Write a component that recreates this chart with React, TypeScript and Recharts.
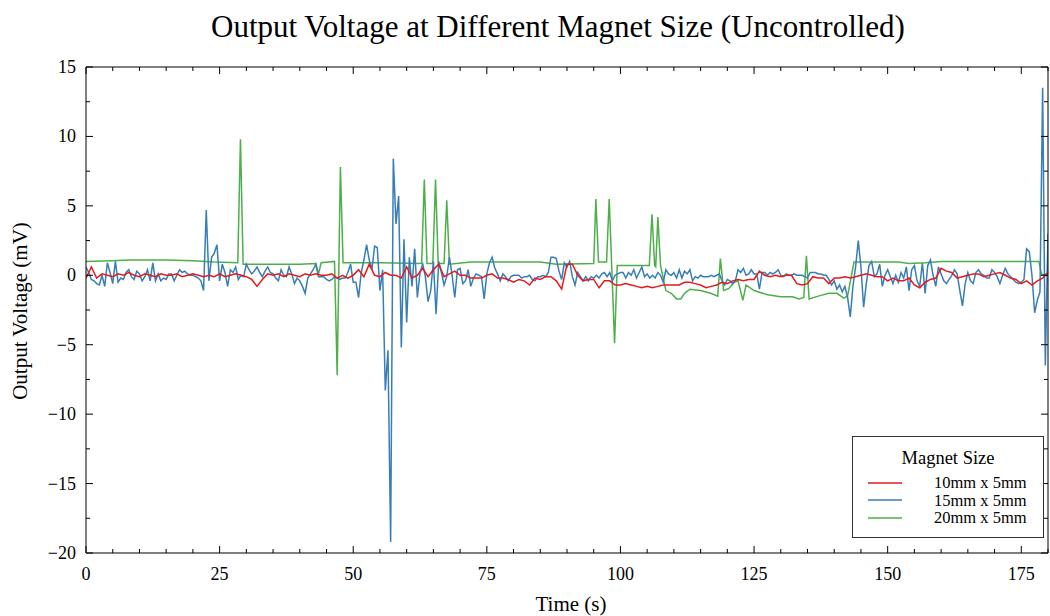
import React from "react";
import { LineChart, Line, XAxis, YAxis, Legend } from "recharts";

const SERIF = '"Liberation Serif", "Times New Roman", serif';

// sampling interval (s) of each recording
const RED_STEP = 1;
const BLUE_STEP = 0.5;

const red10mm = [
  -0.2, 0.6, -0.2, 0.1, 0.0, -0.1, 0.1, 0.0, 0.2, 0.0,
  -0.1, 0.1, 0.0, -0.1, 0.1, 0.0, 0.0, 0.1, -0.1, 0.0,
  0.1, 0.0, -0.1, 0.0, -0.1, 0.1, -0.1, 0.0, 0.1, 0.0,
  -0.1, -0.3, -0.8, -0.3, 0.1, 0.0, 0.1, -0.1, 0.1, 0.0,
  -0.1, 0.1, 0.0, 0.1, 0.0, 0.0, 0.1, -0.2, 0.0, -0.2,
  0.0, 0.4, -0.1, 0.8, 0.0, -0.1, 0.2, 0.0, 0.0, -0.2,
  0.6, -0.2, 0.0, 0.5, -0.1, 0.4, 0.8, -0.1, 0.1, 0.3,
  0.0, 0.0, -0.2, -0.2, -0.2, 0.0, 0.1, -0.2, -0.2, -0.3,
  -0.5, -0.3, -0.4, -0.7, -0.2, -0.3, -0.1, -0.1, -0.4, -1.0,
  0.8, 0.8, 0.0, -0.4, -0.3, -0.3, -0.9, -0.4, -0.4, -0.7,
  -0.7, -0.6, -0.7, -0.8, -0.9, -0.8, -0.9, -0.8, -0.7, -0.7,
  -0.7, -0.7, -0.5, -0.5, -0.6, -0.7, -0.9, -0.8, -0.7, -0.5,
  -0.6, -0.4, -0.3, -0.4, -0.3, -0.3, 0.3, 0.0, -0.1, 0.0,
  -0.1, 0.0, 0.0, -0.6, -0.7, -0.6, -0.1, -0.2, -0.2, -0.6,
  -0.2, -0.2, -0.1, -0.2, -0.1, 0.0, 0.1, 0.0, -0.1, -0.1,
  -0.4, -0.2, -0.4, -0.4, -0.2, -0.7, -0.9, -0.5, -0.3, -0.2,
  0.5, 0.3, 0.2, -0.2, -0.1, 0.0, 0.1, 0.1, -0.1, 0.0,
  0.1, 0.2, 0.0, -0.2, -0.3, -0.6, -0.4, -0.7, -0.4, -0.2,
  0.2,
];

const blue15mm = [
  0.6, 0.2, -0.3, -0.4, -0.6, -0.7, 0.0, -0.8, 0.9, 0.2,
  -0.6, 1.0, -0.5, -0.2, -0.3, 0.2, 0.4, -0.1, -0.3, 0.3,
  0.1, -0.4, -0.1, 0.4, -0.4, 0.9, -0.4, 0.1, -0.4, -0.2,
  -0.3, 0.1, 0.1, -0.4, 0.0, 0.4, 0.2, 0.3, 0.1, 0.0,
  0.0, -0.1, -0.2, -0.4, -1.1, 4.7, -0.4, 1.3, 1.6, 2.2,
  -0.4, 0.8, 0.2, -0.8, 0.4, 0.2, 0.6, -0.3, 0.0, -0.1,
  0.8, 0.4, 0.1, 0.3, 0.6, 0.2, -0.1, 0.3, 0.6, 0.2,
  0.1, -0.2, -0.4, 0.4, 0.0, -0.1, 0.6, 0.1, -0.6, -0.2,
  -0.4, -0.8, -1.3, -0.2, 0.1, 0.4, 0.8, -0.1, -0.1, -0.1,
  -0.3, -0.4, -0.3, -0.1, -0.2, -0.3, -0.2, -0.2, 0.2, 0.8,
  -0.5, -0.5, -1.6, 0.2, 1.1, 2.2, 1.1, 0.4, 2.1, 2.0,
  -1.1, 0.4, -8.3, -5.4, -19.2, 8.4, 3.7, 5.7, -5.2, 2.6,
  -3.4, 1.3, -0.8, 1.9, -1.6, 0.2, 0.8, -0.1, -1.9, -1.1,
  1.0, -2.8, 1.0, 0.2, -0.7, -0.1, 1.3, 0.0, -1.6, 0.4,
  0.5, -0.6, -0.4, 0.4, -0.8, -0.2, 0.1, 0.0, -0.1, -1.7,
  0.1, 0.9, 1.3, 0.5, 0.1, -0.4, 0.1, -0.1, -0.4, -0.1,
  0.0, 0.0, 0.0, -0.2, -0.1, -0.1, 0.0, -0.3, -0.4, -0.1,
  -0.1, 0.0, -0.1, 0.2, 1.3, 1.3, 1.2, 0.3, -0.3, 0.9,
  0.6, 1.0, -0.1, -0.7, 0.2, -0.1, -0.4, -0.1, -0.4, -0.1,
  -0.2, 0.0, -0.2, 0.1, 0.2, -0.1, 0.2, -0.4, 0.0, 0.1,
  0.2, 0.2, -0.2, 0.2, 0.0, 0.4, -0.2, 0.2, 0.6, -0.1,
  0.1, -0.2, 0.0, -0.2, 0.2, 0.0, -0.5, 0.4, 0.1, 0.0,
  0.2, -0.2, 0.4, -0.2, 0.3, 0.1, 0.4, -0.4, -0.1, -0.2,
  0.0, -0.1, -0.1, -0.1, 0.0, -0.1, 0.0, 0.1, -0.4, -0.7,
  -0.3, -0.4, -0.6, -0.4, 0.4, 0.2, 0.5, 0.0, 0.1, 0.4,
  0.1, 0.1, -1.0, 0.2, 0.2, 0.0, 0.2, 0.1, 0.2, 0.4,
  0.0, -0.1, 0.1, 0.0, 0.0, 0.1, 0.0, 0.0, 0.0, -0.1,
  -0.2, 0.2, 0.2, 0.2, 0.1, 0.1, 0.0, 0.0, -0.3, -0.7,
  -0.4, -1.0, -0.7, -1.2, -0.8, -1.6, -3.0, -0.8, 0.6, 2.5,
  0.6, -2.3, -0.6, 0.7, 1.0, -0.1, 0.1, 0.8, -0.8, 0.0,
  0.4, -0.1, -0.6, 0.0, -0.5, 0.2, -0.2, 0.6, -1.1, 0.4,
  0.7, -0.4, -0.8, 0.9, -1.3, 0.7, 1.1, 0.0, -0.8, 0.6,
  0.1, -0.4, -0.6, -0.3, 0.0, 0.4, 0.1, -1.1, -2.2, -0.6,
  0.2, -0.4, -0.6, 0.2, 0.4, 0.1, 0.0, -0.2, -0.2, 0.4,
  0.2, -0.1, -0.6, 0.0, 0.5, 0.1, -0.1, -0.3, -0.5, -0.6,
  -0.5, -0.3, 1.9, 1.7, 0.0, -2.7, -1.8, -1.2, 13.5, -6.5,
  3.0,
];

// the 20mm run is mostly flat, so it is kept as (time, value) breakpoints
const greenTime = [
  0, 5, 8, 15, 20, 24, 28.4, 28.9, 29.4, 35, 40, 43.0, 43.5, 44.0,
  46.5, 47.0, 47.6, 48.1, 55, 62.8, 63.3, 63.8, 64.9, 65.4, 65.9,
  67.0, 67.5, 68.0, 72, 85, 88, 95.0, 95.4, 95.9, 97.4, 97.9, 98.4,
  98.9, 99.4, 105.4, 105.9, 106.4, 106.6, 107.0, 107.5, 108.5, 109.5,
  110.5, 111.3, 112, 113, 115, 116.9, 118.2, 118.7, 119.3, 120.3,
  121.3, 122.0, 122.9, 123.5, 125, 127.5, 130, 132.2, 133.4, 134.3,
  134.8, 135.3, 137, 139, 140.5, 141.8, 142.5, 143.7, 152, 154, 157,
  160, 178.3, 178.8, 180,
];
const green20mm = [
  1.0, 1.05, 1.1, 1.1, 1.05, 0.95, 0.9, 9.8, 0.8, 0.8, 0.8, 0.85, 0.1, 0.9,
  1.0, -7.2, 7.8, 0.9, 0.9, 0.85, 6.9, 0.85, 0.85, 6.9, 0.85,
  0.85, 5.4, 0.8, 0.95, 0.95, 0.8, 0.85, 5.5, 0.95, 0.95, 5.5, 0.3,
  -4.9, 0.7, 0.7, 4.4, 0.7, 0.6, 4.2, 0.7, -1.1, -1.3,
  -1.7, -1.7, -1.3, -1.0, -1.1, -1.3, -1.5, 1.2, -1.1, -0.95,
  -0.5, -0.4, -1.8, -0.7, -1.1, -1.4, -1.55, -1.55, -1.7, -1.6,
  1.4, -1.7, -1.5, -1.3, -1.3, -1.65, -1.5, 0.95, 0.95, 0.85, 0.9,
  1.0, 1.0, 0.05, 0.1,
];

const seriesNames = ["10mm x 5mm", "15mm x 5mm", "20mm x 5mm"];
const seriesColors = ["#e41a1c", "#377eb8", "#4daf4a"];

const xMajorTicks = [0, 25, 50, 75, 100, 125, 150, 175];
const xTicks = [
  0, 5, 10, 15, 20, 25, 30, 35, 40, 45, 50, 55, 60, 65, 70, 75, 80, 85, 90,
  95, 100, 105, 110, 115, 120, 125, 130, 135, 140, 145, 150, 155, 160, 165,
  170, 175, 180,
];
const yMajorTicks = [15, 10, 5, 0, -5, -10, -15, -20];
const yTicks = [
  15, 12.5, 10, 7.5, 5, 2.5, 0, -2.5, -5, -7.5, -10, -12.5, -15, -17.5, -20,
];

const redRows = red10mm.map((v, i) => ({ t: i * RED_STEP, v }));
const blueRows = blue15mm.map((v, i) => ({ t: i * BLUE_STEP, v }));
const greenRows = greenTime.map((t, i) => ({ t, v: green20mm[i] }));

const MAJOR_LEN = 7;
const MINOR_LEN = 4;
const TICK_FONT = 18;
const fmt = (v: number) => (v < 0 ? `\u2212${Math.abs(v)}` : `${v}`);

function BottomTick({ x, y, payload }: any) {
  const major = xMajorTicks.includes(payload.value);
  return (
    <g>
      <line x1={x} x2={x} y1={y} y2={y - (major ? MAJOR_LEN : MINOR_LEN)} stroke="#000" />
      {major && (
        <text x={x} y={y + 27} textAnchor="middle" fontFamily={SERIF} fontSize={TICK_FONT} fill="#000">
          {payload.value}
        </text>
      )}
    </g>
  );
}

function TopTick({ x, y, payload }: any) {
  const major = xMajorTicks.includes(payload.value);
  return <line x1={x} x2={x} y1={y} y2={y + (major ? MAJOR_LEN : MINOR_LEN)} stroke="#000" />;
}

function LeftTick({ x, y, payload }: any) {
  const major = yMajorTicks.includes(payload.value);
  return (
    <g>
      <line x1={x} x2={x + (major ? MAJOR_LEN : MINOR_LEN)} y1={y} y2={y} stroke="#000" />
      {major && (
        <text x={x - 10} y={y + 6} textAnchor="end" fontFamily={SERIF} fontSize={TICK_FONT} fill="#000">
          {fmt(payload.value)}
        </text>
      )}
    </g>
  );
}

function RightTick({ x, y, payload }: any) {
  const major = yMajorTicks.includes(payload.value);
  return <line x1={x} x2={x - (major ? MAJOR_LEN : MINOR_LEN)} y1={y} y2={y} stroke="#000" />;
}

function MagnetLegend() {
  return (
    <div
      style={{
        width: 192,
        height: 102,
        boxSizing: "border-box",
        border: "1px solid #333",
        background: "#fff",
        fontFamily: SERIF,
        color: "#000",
      }}
    >
      <div style={{ textAlign: "center", fontSize: 18.5, lineHeight: "22px", marginTop: 10 }}>
        Magnet Size
      </div>
      <div style={{ marginTop: 5 }}>
        {seriesNames.map((name, i) => (
          <div key={name} style={{ display: "flex", alignItems: "center", height: 17.5 }}>
            <svg width={34} height={4} style={{ marginLeft: 15 }}>
              <line x1={0} x2={34} y1={2} y2={2} stroke={seriesColors[i]} strokeWidth={1.5} />
            </svg>
            <span style={{ marginLeft: 32, fontSize: 16.5, lineHeight: "17px" }}>{name}</span>
          </div>
        ))}
      </div>
    </div>
  );
}

export default function App() {
  return (
    <div style={{ position: "absolute", left: 0, top: 0, width: 1050, height: 616, background: "#fff" }}>
      <div
        style={{
          position: "absolute",
          left: 558,
          top: 9,
          transform: "translateX(-50%)",
          whiteSpace: "nowrap",
          fontFamily: SERIF,
          fontSize: 31,
          lineHeight: "36px",
        }}
      >
        Output Voltage at Different Magnet Size (Uncontrolled)
      </div>
      <div
        style={{
          position: "absolute",
          left: 571,
          top: 592,
          transform: "translateX(-50%)",
          whiteSpace: "nowrap",
          fontFamily: SERIF,
          fontSize: 21,
          lineHeight: "24px",
        }}
      >
        Time (s)
      </div>
      <div
        style={{
          position: "absolute",
          left: 20,
          top: 311,
          transform: "translate(-50%, -50%) rotate(-90deg)",
          whiteSpace: "nowrap",
          fontFamily: SERIF,
          fontSize: 21,
          lineHeight: "24px",
        }}
      >
        Output Voltage (mV)
      </div>

      <LineChart width={1050} height={616} margin={{ top: 66, right: 1, bottom: 33, left: 46 }}>
        <XAxis
          dataKey="t"
          type="number"
          domain={[0, 180]}
          allowDataOverflow
          ticks={xTicks}
          interval={0}
          height={30}
          tickSize={0}
          tickMargin={0}
          tickLine={false}
          tick={<BottomTick />}
          axisLine={{ stroke: "#000" }}
        />
        <XAxis
          xAxisId="top"
          orientation="top"
          dataKey="t"
          type="number"
          domain={[0, 180]}
          allowDataOverflow
          ticks={xTicks}
          interval={0}
          height={1}
          tickSize={0}
          tickMargin={0}
          tickLine={false}
          tick={<TopTick />}
          axisLine={{ stroke: "#000" }}
        />
        <YAxis
          type="number"
          domain={[-20, 15]}
          allowDataOverflow
          ticks={yTicks}
          interval={0}
          width={40}
          tickSize={0}
          tickMargin={0}
          tickLine={false}
          tick={<LeftTick />}
          axisLine={{ stroke: "#000" }}
        />
        <YAxis
          yAxisId="right"
          orientation="right"
          type="number"
          domain={[-20, 15]}
          allowDataOverflow
          ticks={yTicks}
          interval={0}
          width={1}
          tickSize={0}
          tickMargin={0}
          tickLine={false}
          tick={<RightTick />}
          axisLine={{ stroke: "#000" }}
        />
        <Legend
          content={<MagnetLegend />}
          layout="vertical"
          align="center"
          verticalAlign="middle"
          wrapperStyle={{ left: 852, top: 436, width: 192 }}
        />
        <Line
          data={greenRows}
          dataKey="v"
          name={seriesNames[2]}
          stroke={seriesColors[2]}
          strokeWidth={1.5}
          dot={false}
          isAnimationActive={false}
        />
        <Line
          data={blueRows}
          dataKey="v"
          name={seriesNames[1]}
          stroke={seriesColors[1]}
          strokeWidth={1.5}
          dot={false}
          isAnimationActive={false}
        />
        <Line
          data={redRows}
          dataKey="v"
          name={seriesNames[0]}
          stroke={seriesColors[0]}
          strokeWidth={1.5}
          dot={false}
          isAnimationActive={false}
        />
      </LineChart>
    </div>
  );
}
